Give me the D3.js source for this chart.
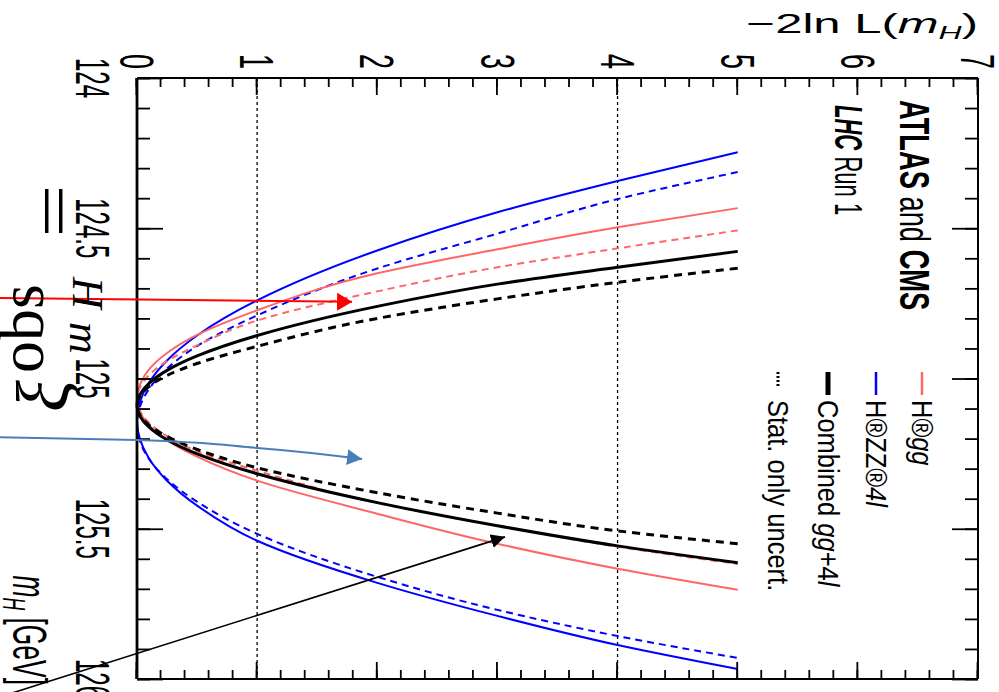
<!DOCTYPE html>
<html>
<head>
<meta charset="utf-8">
<script src="https://cdn.jsdelivr.net/npm/d3@7"></script>
<style>
  body { margin: 0; background: #fff; }
  svg { display: block; font-family: "Liberation Sans", Arial, sans-serif; }
  text { white-space: pre; }
</style>
</head>
<body>
<svg width="999" height="692"></svg>
<script>
// -2 ln L levels shared by every scan: upper branch, minimum, lower branch
var nllLevels = [5, 4, 3, 2, 1, 0.5, 0.25, 0.1, 0, 0.1, 0.25, 0.5, 1, 2, 3, 4, 5];

// m_H [GeV] at each of those levels
var massGG       = [124.433, 124.497, 124.57, 124.65, 124.773, 124.855, 124.915, 124.97, 125.07, 125.155, 125.205, 125.26, 125.34, 125.45, 125.55, 125.633, 125.703];
var massGGStat   = [124.507, 124.567, 124.63, 124.71, 124.807, 124.89, 124.942, 124.989, 125.07, 125.147, 125.192, 125.242, 125.307, 125.414, 125.49, 125.56, 125.617];
var massZZ       = [124.247, 124.343, 124.447, 124.574, 124.74, 124.857, 124.94, 125.014, 125.14, 125.266, 125.34, 125.423, 125.54, 125.68, 125.79, 125.887, 125.967];
var massZZStat   = [124.313, 124.403, 124.518, 124.634, 124.79, 124.892, 124.967, 125.035, 125.15, 125.268, 125.335, 125.41, 125.517, 125.66, 125.77, 125.857, 125.93];
var massComb     = [124.577, 124.63, 124.686, 124.76, 124.857, 124.925, 124.973, 125.016, 125.09, 125.162, 125.204, 125.251, 125.317, 125.413, 125.49, 125.557, 125.613];
var massCombStat = [124.633, 124.68, 124.735, 124.80, 124.893, 124.95, 124.99, 125.027, 125.09, 125.155, 125.193, 125.236, 125.297, 125.38, 125.448, 125.507, 125.55];

// axis ticks and the two reference levels
var massTicks = [124, 124.5, 125, 125.5, 126];
var nllTicks = [0, 1, 2, 3, 4, 5, 6, 7];
var refLevels = [1, 4];

// annotation arrows drawn over the figure, in (m_H, -2lnL) units
var redArrowMass = [124.732, 124.745];
var redArrowNll = [-1.2, 1.79];
var blueArrowMass = [125.195, 125.205, 125.231, 125.268];
var blueArrowNll = [-1.2, 0, 1.0, 1.873];
var blackArrowMass = [126.07, 125.527];
var blackArrowNll = [-1.224, 3.063];

var svg = d3.select("svg");

// The whole plot is drawn upright, then turned a quarter turn clockwise.
var W = 601, H = 841, squeeze = 0.55;
var chart = svg.append("g").attr("transform", "translate(978,78) rotate(90)");

var x = d3.scaleLinear().domain([124, 126]).range([0, W]);
var y = d3.scaleLinear().domain([0, 7]).range([H, 0]);

// text in the source figure is narrowed along the mass axis
function label(parent, ox, oy, sx, rot) {
  return parent.append("text")
      .attr("transform", "translate(" + ox + "," + oy + ") scale(" + sx + ",1)" + (rot ? " rotate(" + rot + ")" : ""));
}

// ---- arrow heads
var defs = svg.append("defs");
[["red", "#ff0000", 15, 9], ["blue", "#4a7ebb", 15, 8], ["black", "#000", 14, 7]].forEach(function(h) {
  defs.append("marker")
      .attr("id", "head-" + h[0])
      .attr("markerUnits", "userSpaceOnUse")
      .attr("viewBox", "0 " + (-h[3]) + " " + h[2] + " " + (2 * h[3]))
      .attr("markerWidth", h[2]).attr("markerHeight", 2 * h[3])
      .attr("refX", h[2]).attr("refY", 0)
      .attr("orient", "auto")
    .append("path")
      .attr("d", "M0," + (-h[3]) + "L" + h[2] + ",0L0," + h[3] + "Z")
      .attr("fill", h[1]);
});

// ---- reference lines at 1 and 4
chart.append("g").selectAll("line")
    .data(refLevels)
    .enter().append("line")
      .attr("x1", x(124)).attr("x2", x(126))
      .attr("y1", function(d) { return y(d); })
      .attr("y2", function(d) { return y(d); })
      .attr("stroke", "#000")
      .attr("stroke-width", 1.3)
      .attr("stroke-dasharray", "3,3");

// ---- scans
var series = [
  { mass: massZZ,       color: "#0000ff", width: 2, dash: null },
  { mass: massZZStat,   color: "#0000ff", width: 2, dash: "7,5" },
  { mass: massGG,       color: "#ff6666", width: 2, dash: null },
  { mass: massGGStat,   color: "#ff6666", width: 2, dash: "7,5" },
  { mass: massComb,     color: "#000000", width: 3, dash: null },
  { mass: massCombStat, color: "#000000", width: 3, dash: "8,6" }
];

var scan = d3.line()
    .x(function(d) { return x(d.m); })
    .y(function(d) { return y(d.L); })
    .curve(d3.curveMonotoneX);

chart.append("g").selectAll("path")
    .data(series)
    .enter().append("path")
      .attr("d", function(s) {
        return scan(s.mass.map(function(m, i) { return { m: m, L: nllLevels[i] }; }));
      })
      .attr("fill", "none")
      .attr("stroke", function(s) { return s.color; })
      .attr("stroke-width", function(s) { return s.width; })
      .attr("stroke-dasharray", function(s) { return s.dash; });

// ---- axes, ticks pointing inwards on all four sides
function ticks(axis, tx, ty, values, size) {
  var g = chart.append("g")
      .attr("transform", "translate(" + tx + "," + ty + ")")
      .call(axis.tickValues(values).tickSize(-size).tickSizeOuter(0).tickFormat(""));
  g.select(".domain").remove();
  g.selectAll("line").attr("stroke", "#000").attr("stroke-width", 1.8);
  return g;
}

ticks(d3.axisBottom(x), 0, H, x.ticks(20), 13);
ticks(d3.axisBottom(x), 0, H, massTicks, 26);
ticks(d3.axisTop(x), 0, 0, x.ticks(20), 13);
ticks(d3.axisTop(x), 0, 0, massTicks, 26);
ticks(d3.axisLeft(y), 0, 0, y.ticks(35), 9);
ticks(d3.axisLeft(y), 0, 0, nllTicks, 17);
ticks(d3.axisRight(y), W, 0, y.ticks(35), 9);
ticks(d3.axisRight(y), W, 0, nllTicks, 17);

// frame
chart.append("line").attr("x1", 0).attr("x2", W).attr("y1", H).attr("y2", H).attr("stroke", "#000").attr("stroke-width", 2.8);
chart.append("line").attr("x1", 0).attr("x2", 0).attr("y1", 0).attr("y2", H).attr("stroke", "#000").attr("stroke-width", 2);
chart.append("line").attr("x1", 0).attr("x2", W).attr("y1", 0).attr("y2", 0).attr("stroke", "#000").attr("stroke-width", 2);
chart.append("line").attr("x1", W).attr("x2", W).attr("y1", 0).attr("y2", H).attr("stroke", "#000").attr("stroke-width", 2);

// tick labels
chart.append("g").selectAll("text")
    .data(massTicks)
    .enter().append("text")
      .attr("transform", function(d) { return "translate(" + x(d) + "," + (H + 27) + ") scale(0.5,1)"; })
      .attr("dy", "0.71em")
      .attr("text-anchor", "middle")
      .attr("font-size", 48)
      .text(function(d) { return d; });

chart.append("g").selectAll("text")
    .data(nllTicks)
    .enter().append("text")
      .attr("transform", function(d) { return "translate(-9," + y(d) + ") scale(0.56,1)"; })
      .attr("dy", "0.35em")
      .attr("text-anchor", "end")
      .attr("font-size", 48)
      .text(function(d) { return d; });

// axis titles
var yTitle = label(chart, -45, 0, squeeze, -90)
    .attr("text-anchor", "end")
    .attr("font-size", 49);
yTitle.append("tspan").text("\u22122ln L(");
yTitle.append("tspan").attr("font-style", "italic").text("m");
yTitle.append("tspan").attr("font-style", "italic").attr("font-size", 32).attr("dy", 10).text("H");
yTitle.append("tspan").attr("dy", -10).text(")");

var xTitle = label(chart, W + 6, H + 124, squeeze)
    .attr("text-anchor", "end")
    .attr("font-size", 48);
xTitle.append("tspan").attr("font-style", "italic").text("m");
xTitle.append("tspan").attr("font-style", "italic").attr("font-size", 32).attr("dy", 10).text("H");
xTitle.append("tspan").attr("dy", -10).text(" [GeV]");

// experiment label
var atlas = label(chart, 22, 78, 0.65).attr("font-size", 42);
atlas.append("tspan").attr("font-weight", "bold").text("ATLAS");
atlas.append("tspan").text(" and ");
atlas.append("tspan").attr("font-weight", "bold").text("CMS");

var run = label(chart, 27, 143, 0.58).attr("font-size", 38);
run.append("tspan").attr("font-weight", "bold").attr("font-style", "italic").text("LHC");
run.append("tspan").text(" Run 1");

// ---- legend
var legend = chart.append("g");
var entries = [
  { oy: 56,  color: "#ff6666", width: 2.5, dash: null,  parts: [["H®", null], ["gg", "italic"]] },
  { oy: 102, color: "#0000ff", width: 2.5, dash: null,  parts: [["H®ZZ®", null], ["4l", "italic"]] },
  { oy: 150, color: "#000000", width: 5,   dash: null,  parts: [["Combined ", null], ["gg", "italic"], ["+4", null], ["l", "italic"]] },
  { oy: 200, color: "#000000", width: 3,   dash: "2,2", parts: [["Stat. only uncert.", null]] }
];
entries.forEach(function(e) {
  legend.append("line")
      .attr("x1", 294).attr("x2", e.dash ? 308 : 317)
      .attr("y1", e.oy).attr("y2", e.oy)
      .attr("stroke", e.color)
      .attr("stroke-width", e.width)
      .attr("stroke-dasharray", e.dash);
  var t = label(legend, 322, e.oy + 10, 0.85).attr("font-size", 30);
  e.parts.forEach(function(p) {
    t.append("tspan").attr("font-style", p[1]).text(p[0]);
  });
});

// ---- arrows
function arrow(mass, nll, color, width, head) {
  chart.append("path")
      .attr("d", scan(mass.map(function(m, i) { return { m: m, L: nll[i] }; })))
      .attr("fill", "none")
      .attr("stroke", color)
      .attr("stroke-width", width)
      .attr("marker-end", "url(#head-" + head + ")");
}
arrow(redArrowMass, redArrowNll, "#ff0000", 2, "red");
arrow(blueArrowMass, blueArrowNll, "#4a7ebb", 2, "blue");
arrow(blackArrowMass, blackArrowNll, "#000000", 1.6, "black");

// ---- stray formula glyphs lying over the mass labels
var serif = "'Liberation Serif', 'DejaVu Serif', serif";
svg.append("text").attr("transform", "translate(43,373) rotate(-90)")
    .attr("font-family", serif).attr("font-size", 64).text("obs");
svg.append("text").attr("transform", "translate(68,412) rotate(-90)")
    .attr("font-family", serif).attr("font-style", "italic").attr("font-size", 74).text("\u03be");
svg.append("text").attr("transform", "translate(30,211) rotate(90) scale(1.35,1)")
    .attr("font-family", serif).attr("font-size", 70).attr("text-anchor", "middle").text("=");
svg.append("text").attr("transform", "translate(73,277) rotate(90)")
    .attr("font-family", serif).attr("font-style", "italic").attr("font-size", 44).text("H");
svg.append("text").attr("transform", "translate(70,322) rotate(90)")
    .attr("font-family", serif).attr("font-style", "italic").attr("font-size", 44).text("m");
</script>
</body>
</html>
